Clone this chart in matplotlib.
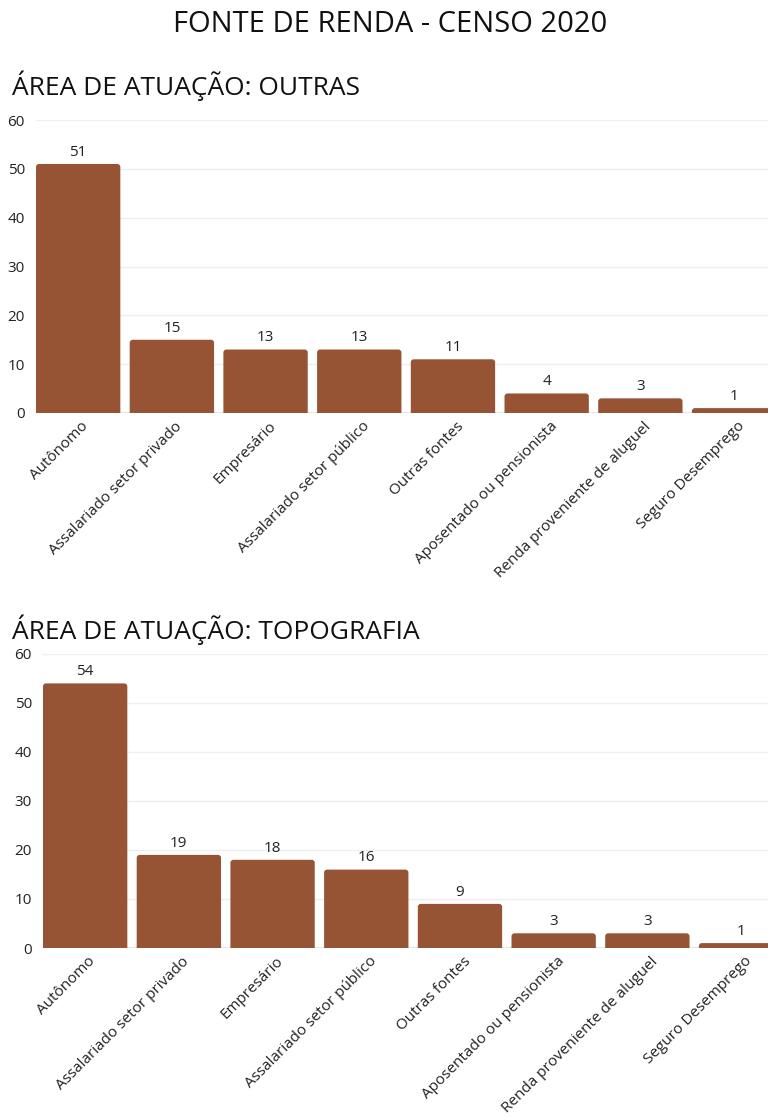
import matplotlib
matplotlib.use("Agg")
import matplotlib.pyplot as plt
from matplotlib.patches import FancyBboxPatch
from matplotlib.transforms import ScaledTranslation

categories = ["Autônomo", "Assalariado setor privado", "Empresário",
              "Assalariado setor público", "Outras fontes",
              "Aposentado ou pensionista", "Renda proveniente de aluguel",
              "Seguro Desemprego"]
outras_values = [51, 15, 13, 13, 11, 4, 3, 1]
topografia_values = [54, 19, 18, 16, 9, 3, 3, 1]
y_ticks = [0, 10, 20, 30, 40, 50, 60]

plt.rcParams['font.family'] = ['Open Sans', 'DejaVu Sans']

W, H = 768, 1117
fig = plt.figure(figsize=(W / 100, H / 100), dpi=100)
color = "#965434"
PITCH = 93.7

fig.text(390 / W, 1 - 25 / H, "FONTE DE RENDA - CENSO 2020", ha="center", va="center",
         fontsize=21, color="#111111")


def panel(left_px, top_px, bottom_px, values, title, title_y):
    ax = fig.add_axes([left_px / W, 1 - bottom_px / H, (W - left_px) / W,
                       (bottom_px - top_px) / H])
    x = list(range(len(categories)))
    bars = ax.bar(x, values, width=0.9, color=color, zorder=3)
    ax.set_ylim(0, 60)
    ax.set_xlim(-0.45, (W - left_px) / PITCH - 0.45)
    ax.set_yticks(y_ticks)
    ax.yaxis.grid(True, color="#efefef", linewidth=1, zorder=0)
    for s in ax.spines.values():
        s.set_visible(False)
    ax.axhline(0, color="#e6e6e6", linewidth=1.5, zorder=2)
    ax.tick_params(axis="both", length=0, labelsize=11, colors="#222222")
    ax.tick_params(axis="y", pad=8)
    ax.set_xticks(x)
    ax.set_xticklabels(categories, rotation=45, ha="right", rotation_mode="anchor")
    for lbl in ax.get_xticklabels():
        lbl.set_transform(lbl.get_transform() + ScaledTranslation(3 / 100, -1 / 100, fig.dpi_scale_trans))
    # rounded tops
    ypx = (bottom_px - top_px) / 60.0
    r = 3.0
    for b in bars:
        b.set_visible(False)
        p = FancyBboxPatch((b.get_x(), -2), b.get_width(), b.get_height() + 2,
                           boxstyle=f"round,pad=0,rounding_size={r / PITCH}",
                           mutation_aspect=PITCH / ypx,
                           facecolor=color, edgecolor="none", zorder=3)
        ax.add_patch(p)
    for b, v in zip(bars, values):
        ax.annotate(str(v), (b.get_x() + b.get_width() / 2, v), xytext=(0, 3),
                    textcoords="offset points", ha="center", va="bottom",
                    fontsize=11, color="#222222")
    fig.text(12 / W, 1 - title_y / H, title, ha="left", va="center", fontsize=19,
             color="#111111")
    return ax


panel(36, 120, 413, outras_values, "ÁREA DE ATUAÇÃO: OUTRAS", 86)
panel(43, 654, 948, topografia_values, "ÁREA DE ATUAÇÃO: TOPOGRAFIA", 630)

fig.savefig("out.png", dpi=100)
